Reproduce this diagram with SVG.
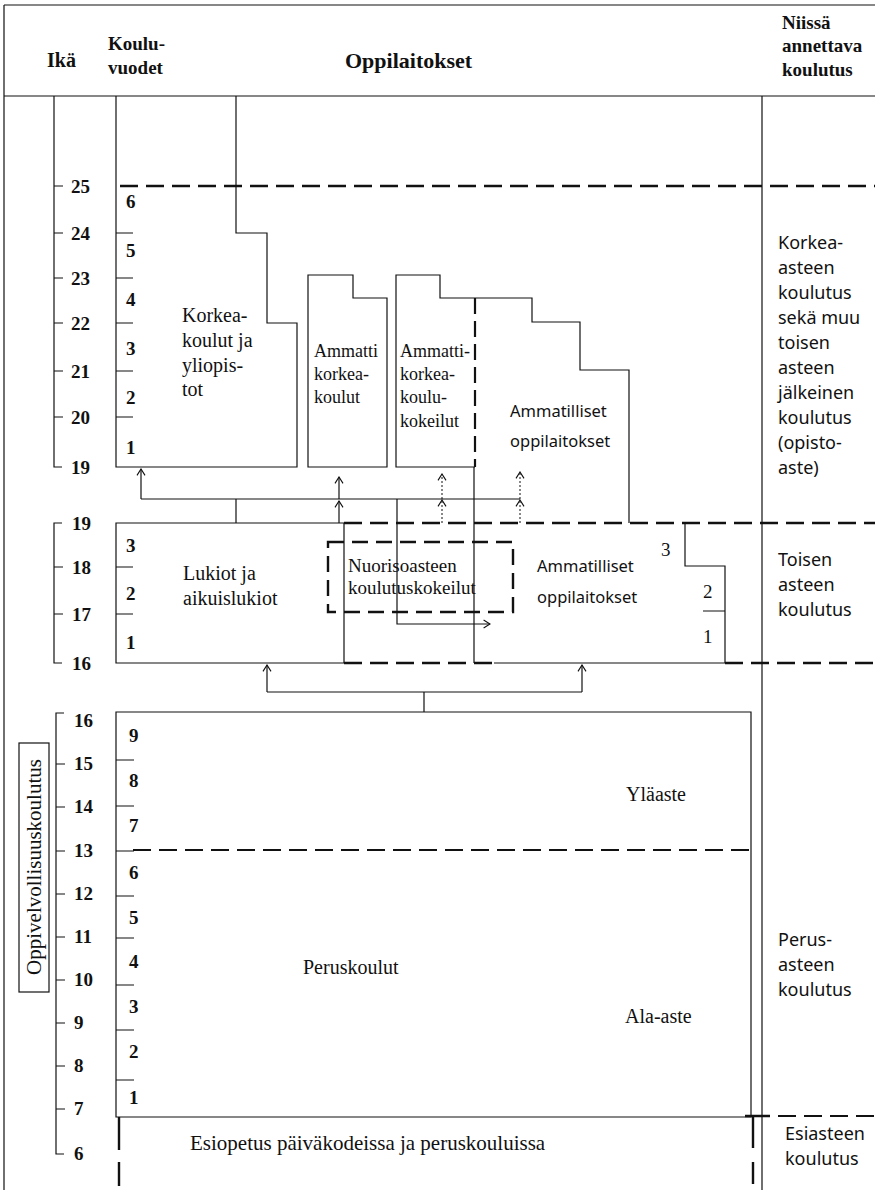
<svg xmlns="http://www.w3.org/2000/svg" width="875" height="1190" viewBox="0 0 875 1190">
<style>
.l{fill:none;stroke:#111;stroke-width:1.2}
.d{fill:none;stroke:#111;stroke-width:2.6;stroke-dasharray:18 8}
.dt{fill:none;stroke:#111;stroke-width:1;stroke-dasharray:2 2}
.tk{fill:none;stroke:#111;stroke-width:2.4}
.s{font-family:"Liberation Serif","Times New Roman",serif;font-size:20px;fill:#111}
.n{font-family:"Liberation Serif","Times New Roman",serif;font-size:19px;font-weight:bold;fill:#111}
.h{font-family:"Liberation Serif","Times New Roman",serif;font-size:19px;font-weight:bold;fill:#111}
.o{font-family:"Noto Sans","Liberation Sans",sans-serif;font-size:18px;fill:#111}
.oa{font-family:"Noto Sans","Liberation Sans",sans-serif;font-size:16.5px;fill:#111}
.m{font-family:"Liberation Serif","Times New Roman",serif;font-size:18px;fill:#111}
</style>
<defs>
<marker id="ah" viewBox="0 0 10 12" refX="9" refY="6" markerWidth="8" markerHeight="10" orient="auto" markerUnits="userSpaceOnUse">
<path d="M1,1 L9,6 L1,11" fill="none" stroke="#111" stroke-width="1.4"/>
</marker>
</defs>
<rect width="875" height="1190" fill="#fff"/>

<g id="frame">
<path class="l" d="M4,5 H875 M4,96 H875 M4,5 V1190 M762,96 V1190"/>
</g>

<g id="header">
<text class="h" x="47" y="67" style="font-size:20px">Ikä</text>
<text class="h" x="108" y="50">Koulu-</text>
<text class="h" x="108" y="74">vuodet</text>
<text class="h" x="345" y="68" style="font-size:22px">Oppilaitokset</text>
<text class="h" x="782" y="29" style="font-size:19px">Niissä</text>
<text class="h" x="782" y="52" style="font-size:19px">annettava</text>
<text class="h" x="782" y="76" style="font-size:19px">koulutus</text>
</g>

<g id="age-axis">
<path class="l" d="M54,96 V467 H62 M54,186 H63 M54,233 H63 M54,278 H63 M54,323 H63 M54,371 H63 M54,417 H63"/>
<text class="n" x="71" y="193">25</text>
<text class="n" x="71" y="240">24</text>
<text class="n" x="71" y="285">23</text>
<text class="n" x="71" y="330">22</text>
<text class="n" x="71" y="378">21</text>
<text class="n" x="71" y="424">20</text>
<text class="n" x="71" y="474">19</text>
<path class="l" d="M62,523 H54 V663 H62 M54,567 H63 M54,614 H63"/>
<text class="n" x="72" y="530">19</text>
<text class="n" x="72" y="574">18</text>
<text class="n" x="72" y="621">17</text>
<text class="n" x="72" y="670">16</text>
<path class="l" d="M64,713 H56 V1154 H64 M56,764 H65 M56,807 H65 M56,851 H65 M56,894 H65 M56,937 H65 M56,980 H65 M56,1023 H65 M56,1066 H65 M56,1109 H65"/>
<text class="n" x="74" y="727">16</text>
<text class="n" x="74" y="770">15</text>
<text class="n" x="74" y="813">14</text>
<text class="n" x="74" y="857">13</text>
<text class="n" x="74" y="900">12</text>
<text class="n" x="74" y="943">11</text>
<text class="n" x="74" y="986">10</text>
<text class="n" x="74" y="1029">9</text>
<text class="n" x="74" y="1072">8</text>
<text class="n" x="74" y="1115">7</text>
<text class="n" x="74" y="1160">6</text>
</g>

<g id="oppivelvollisuus">
<rect class="l" x="19" y="743" width="30" height="249"/>
<text class="s" x="0" y="0" text-anchor="middle" transform="translate(41,867) rotate(-90)" style="font-size:21px">Oppivelvollisuuskoulutus</text>
</g>

<g id="level-lines">
<path class="d" d="M120,186 H875"/>
</g>

<g id="korkeakoulut">
<path class="l" d="M116,96 V467 H297 V323 H267 V233 H236 V96"/>
<path class="l" d="M116,233 H133 M116,278 H133 M116,323 H133 M116,371 H133 M116,417 H133"/>
<text class="n" x="126" y="208">6</text>
<text class="n" x="126" y="257">5</text>
<text class="n" x="126" y="306">4</text>
<text class="n" x="126" y="355">3</text>
<text class="n" x="126" y="404">2</text>
<text class="n" x="126" y="454">1</text>
<text class="s" x="182" y="322">Korkea-</text>
<text class="s" x="182" y="347">koulut ja</text>
<text class="s" x="182" y="372">yliopis-</text>
<text class="s" x="182" y="396">tot</text>
</g>

<g id="ammattikorkeakoulut">
<path class="l" d="M308,467 V275 H353 V298 H387 V467 Z"/>
<text class="m" x="314" y="357">Ammatti</text>
<text class="m" x="314" y="380">korkea-</text>
<text class="m" x="314" y="403">koulut</text>
</g>

<g id="amk-kokeilut">
<path class="l" d="M475,298 H440 V275 H396 V467 H475"/>
<path class="d" d="M475,298 V467" style="stroke-width:2.2;stroke-dasharray:16 7"/>
<text class="m" x="400" y="357">Ammatti-</text>
<text class="m" x="400" y="380">korkea-</text>
<text class="m" x="400" y="403">koulu-</text>
<text class="m" x="400" y="427">kokeilut</text>
</g>

<g id="ammatilliset-ylempi">
<path class="l" d="M475,298 H532 V322 H580 V370 H629 V523"/>
<text class="oa" x="510" y="417">Ammatilliset</text>
<text class="oa" x="510" y="447">oppilaitokset</text>
</g>

<g id="lukiot">
<path class="l" d="M344,523 H116 V663 H344"/>
<path class="l" d="M116,567 H133 M116,614 H133"/>
<text class="n" x="126" y="552">3</text>
<text class="n" x="126" y="600">2</text>
<text class="n" x="126" y="649">1</text>
<text class="s" x="183" y="580">Lukiot ja</text>
<text class="s" x="183" y="605">aikuislukiot</text>
</g>

<g id="ammatilliset-alempi">
<path class="l" d="M344,523 V663 M474,467 V663 M494,663 H725"/>
<path class="d" d="M344,523 H875 M344,663 H494 M725,663 H875"/>
<path class="l" d="M685,523 V566 H725 V663 M703,611 H725"/>
<text class="n" x="661" y="556" style="font-weight:normal">3</text>
<text class="n" x="703" y="598" style="font-weight:normal">2</text>
<text class="n" x="703" y="643" style="font-weight:normal">1</text>
<text class="oa" x="537" y="572">Ammatilliset</text>
<text class="oa" x="537" y="603">oppilaitokset</text>
</g>

<g id="nuorisoaste">
<rect class="d" x="328" y="542" width="185" height="70" style="stroke-width:2.4;stroke-dasharray:16 8"/>
<text class="s" x="348" y="572" style="font-size:19px">Nuorisoasteen</text>
<text class="s" x="348" y="594" style="font-size:19px">koulutuskokeilut</text>
</g>

<g id="peruskoulut">
<path class="l" d="M116,712 H751 V1117 H116 Z"/>
<path class="d" d="M133,850 H751" style="stroke-width:2.2"/>
<path class="l" d="M116,760 H134 M116,806 H134 M116,851 H134 M116,896 H134 M116,938 H134 M116,985 H134 M116,1030 H134 M116,1080 H134"/>
<text class="n" x="129" y="742">9</text>
<text class="n" x="129" y="787">8</text>
<text class="n" x="129" y="832">7</text>
<text class="n" x="129" y="879">6</text>
<text class="n" x="129" y="924">5</text>
<text class="n" x="129" y="968">4</text>
<text class="n" x="129" y="1013">3</text>
<text class="n" x="129" y="1058">2</text>
<text class="n" x="129" y="1104">1</text>
<text class="s" x="626" y="801">Yläaste</text>
<text class="s" x="303" y="974">Peruskoulut</text>
<text class="s" x="625" y="1023">Ala-aste</text>
</g>

<g id="esiopetus">
<path class="tk" d="M119,1117 V1150 M119,1162 V1186 M753,1117 V1148 M753,1162 V1184 M745,1116 H770"/>
<path class="d" d="M778,1116 H875" style="stroke-width:2.2"/>
<text class="s" x="190" y="1150" style="font-size:21px">Esiopetus päiväkodeissa ja peruskouluissa</text>
</g>

<g id="koulutus-labels">
<text class="o" x="778" y="249">Korkea-</text>
<text class="o" x="778" y="274">asteen</text>
<text class="o" x="778" y="299">koulutus</text>
<text class="o" x="778" y="324">sekä muu</text>
<text class="o" x="778" y="349">toisen</text>
<text class="o" x="778" y="374">asteen</text>
<text class="o" x="778" y="399">jälkeinen</text>
<text class="o" x="778" y="424">koulutus</text>
<text class="o" x="778" y="449">(opisto-</text>
<text class="o" x="778" y="474">aste)</text>
<text class="o" x="778" y="566">Toisen</text>
<text class="o" x="778" y="591">asteen</text>
<text class="o" x="778" y="616">koulutus</text>
<text class="o" x="778" y="946">Perus-</text>
<text class="o" x="778" y="971">asteen</text>
<text class="o" x="778" y="996">koulutus</text>
<text class="o" x="785" y="1140">Esiasteen</text>
<text class="o" x="785" y="1165">koulutus</text>
</g>

<g id="connectors">
<path class="l" d="M141,499 H520 M236,499 V523"/>
<path class="l" d="M141,499 V469" marker-end="url(#ah)"/>
<path class="l" d="M339,499 V477" marker-end="url(#ah)"/>
<path class="l" d="M339,523 V501" marker-end="url(#ah)"/>
<path class="dt" d="M442,499 V474" marker-end="url(#ah)"/>
<path class="dt" d="M442,523 V500" marker-end="url(#ah)"/>
<path class="dt" d="M520,499 V472" marker-end="url(#ah)"/>
<path class="dt" d="M520,523 V500" marker-end="url(#ah)"/>
<path class="l" d="M397,499 V624 H490" marker-end="url(#ah)"/>
<path class="l" d="M424,712 V692 M267,692 H582"/>
<path class="l" d="M267,692 V665" marker-end="url(#ah)"/>
<path class="l" d="M582,692 V665" marker-end="url(#ah)"/>
</g>
</svg>
